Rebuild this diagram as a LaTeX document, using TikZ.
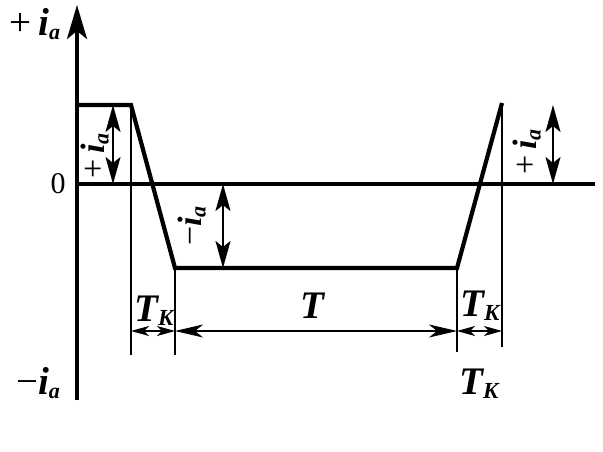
\documentclass[tikz,border=0pt]{standalone}
\usepackage{fontspec}
\setmainfont{Liberation Serif}
\tikzstyle{curve} = [line width=4.2pt, line join=miter]
\tikzstyle{axis} = [line width=3.2pt]
\tikzstyle{guide} = [line width=1.1pt]
\tikzstyle{sizearrow} = [<->, line width=2.2pt, >={Stealth[length=27pt,width=15pt,inset=6pt]}]
\tikzstyle{dimarrow} = [<->, line width=1.2pt, >={Stealth[length=18pt,width=10pt,inset=5pt]}]
\tikzstyle{lbl} = [font=\fontsize{39}{41}\selectfont\bfseries\itshape, inner sep=0pt]
\tikzstyle{vlbl} = [lbl, font=\fontsize{34}{36}\selectfont\bfseries\itshape, rotate=90]
\usetikzlibrary{arrows.meta}
\newcommand{\ia}{i\raisebox{-0.12em}{\fontsize{22}{22}\selectfont a}}
\newcommand{\TK}{T\raisebox{-0.1em}{\fontsize{23}{23}\selectfont K}}

\begin{document}
\begin{tikzpicture}[x=1pt, y=-1pt]
      \useasboundingbox (0,0) rectangle (603,452);
      % axes
      \coordinate (top) at (77,5);
      \coordinate (bot) at (77,400);
      \coordinate (org) at (77,184);
      \coordinate (zend) at (595,184);
      \draw[axis, -{Stealth[length=34pt,width=20pt,inset=8pt]}] (bot) -- (top);
      \draw[axis] (org) -- (zend);

      % current curve
      \coordinate (a) at (77,105);
      \coordinate (b) at (131,105);
      \coordinate (c) at (175,268);
      \coordinate (d) at (457,268);
      \coordinate (e) at (502,103);
      \draw[curve] (a) -- (b) -- (c) -- (d) -- (e);

      % guide lines
      \coordinate (b1) at (131,355);
      \coordinate (c1) at (175,355);
      \coordinate (d1) at (457,352);
      \coordinate (e1) at (502,347);
      \draw[guide] (b) -- (b1);
      \draw[guide] (c) -- (c1);
      \draw[guide] (d) -- (d1);
      \draw[guide] (e) -- (e1);

      % dimension arrows
      \coordinate (p1) at (131,331);
      \coordinate (p2) at (175,331);
      \coordinate (p3) at (457,331);
      \coordinate (p4) at (502,331);
      \draw[dimarrow] (p1) -- (p2);
      \draw[dimarrow, >={Stealth[length=28pt,width=13pt,inset=8pt]}] (p2) -- (p3);
      \draw[dimarrow] (p3) -- (p4);

      % amplitude arrows
      \coordinate (u1) at (113,105);
      \coordinate (u2) at (113,184);
      \coordinate (v1) at (223,184);
      \coordinate (v2) at (223,268);
      \coordinate (w1) at (553,105);
      \coordinate (w2) at (553,184);
      \draw[sizearrow] (u1) -- (u2);
      \draw[sizearrow] (v1) -- (v2);
      \draw[sizearrow] (w1) -- (w2);

      % labels
      \node[lbl] (ptop) at (35,24) {{\mdseries\upshape +}\,\ia};
      \node[lbl] (mbot) at (38,383) {{\mdseries\upshape −}\ia};
      \node[font=\fontsize{30}{32}\selectfont, inner sep=0pt] (zero) at (58,184) {0};
      \node[vlbl] (pl1) at (95,156) {{\mdseries\upshape +}\,\ia};
      \node[vlbl] (ml1) at (192,226) {{\mdseries\upshape −}\ia};
      \node[vlbl] (pl2) at (527,152) {{\mdseries\upshape +}\,\ia};
      \node[lbl] (tk1) at (154,311) {\TK};
      \node[lbl] (tt) at (312,306) {T};
      \node[lbl] (tk2) at (480,306) {\TK};
      \node[lbl] (tk3) at (479,384) {\TK};
    \end{tikzpicture}
\end{document}
